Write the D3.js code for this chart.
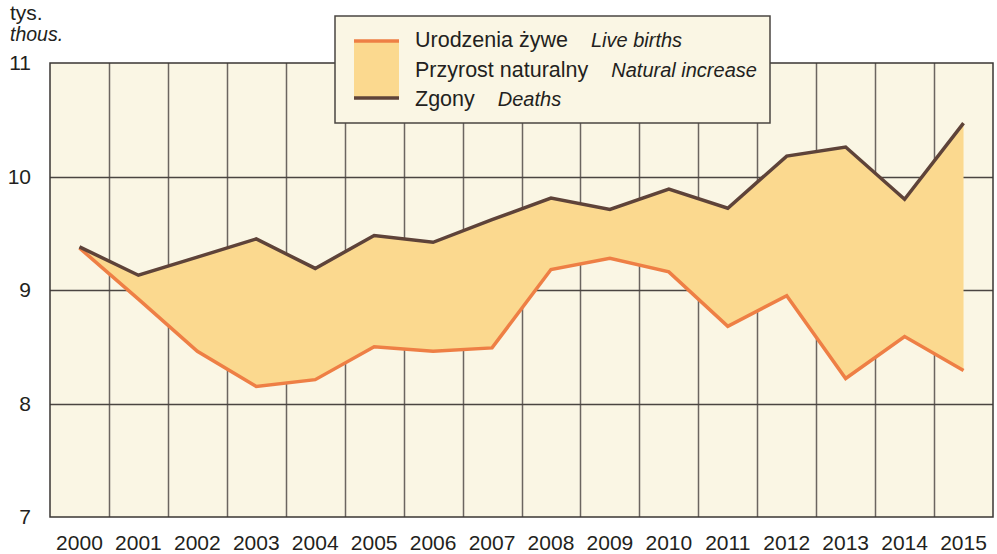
<!DOCTYPE html>
<html lang="pl">
<head>
  <meta charset="utf-8">
  <title>Urodzenia i zgony</title>
  <script src="https://d3js.org/d3.v7.min.js"></script>
  <style>
    body { margin: 0; background: #fff; }
    text { font-family: "Liberation Sans", Arial, sans-serif; fill: #231f20; }
  </style>
</head>
<body>
<script>
  var years = ["2000", "2001", "2002", "2003", "2004", "2005", "2006", "2007",
    "2008", "2009", "2010", "2011", "2012", "2013", "2014", "2015"];
  var births = [9.37, 8.92, 8.46, 8.15, 8.21, 8.50, 8.46, 8.49,
    9.18, 9.28, 9.16, 8.68, 8.95, 8.22, 8.59, 8.29];
  var deaths = [9.38, 9.13, 9.29, 9.45, 9.19, 9.48, 9.42, 9.62,
    9.81, 9.71, 9.89, 9.72, 10.18, 10.26, 9.80, 10.47];
  var yTicks = [7, 8, 9, 10, 11];

  var width = 997, height = 554;
  var margin = { top: 63, right: 4, bottom: 37, left: 50 };
  var w = width - margin.left - margin.right,
    h = height - margin.top - margin.bottom;

  var svg = d3.select("body").append("svg")
    .attr("width", width)
    .attr("height", height);

  var g = svg.append("g")
    .attr("transform", "translate(" + margin.left + "," + margin.top + ")");

  var x = d3.scaleBand().domain(years).range([0, w]);
  var y = d3.scaleLinear().domain([7, 11]).range([h, 0]);

  var data = years.map(function (d, i) {
    return { year: d, b: births[i], z: deaths[i] };
  });

  g.append("rect")
    .attr("width", w).attr("height", h)
    .attr("fill", "#faf6e4");

  // vertical grid at band boundaries
  g.selectAll(".vgrid")
    .data(years.slice(1))
    .enter().append("line")
    .attr("x1", function (d) { return Math.round(x(d)) + 0.5; })
    .attr("x2", function (d) { return Math.round(x(d)) + 0.5; })
    .attr("y1", 0).attr("y2", h)
    .attr("stroke", "#6b6560").attr("stroke-width", 1.5);

  g.selectAll(".hgrid")
    .data(yTicks.slice(1, -1))
    .enter().append("line")
    .attr("x1", 0).attr("x2", w)
    .attr("y1", function (d) { return Math.round(y(d)) + 0.5; })
    .attr("y2", function (d) { return Math.round(y(d)) + 0.5; })
    .attr("stroke", "#4a4541").attr("stroke-width", 1.5);

  var cx = function (d) { return x(d.year) + x.bandwidth() / 2; };

  g.append("path")
    .datum(data)
    .attr("fill", "#fbd98f")
    .attr("d", d3.area().x(cx)
      .y0(function (d) { return y(d.b); })
      .y1(function (d) { return y(d.z); }));

  g.append("path")
    .datum(data)
    .attr("fill", "none")
    .attr("stroke", "#ee7f45")
    .attr("stroke-width", 3.5)
    .attr("d", d3.line().x(cx).y(function (d) { return y(d.b); }));

  g.append("path")
    .datum(data)
    .attr("fill", "none")
    .attr("stroke", "#5e4339")
    .attr("stroke-width", 3.5)
    .attr("d", d3.line().x(cx).y(function (d) { return y(d.z); }));

  g.append("rect")
    .attr("width", w).attr("height", h)
    .attr("fill", "none")
    .attr("stroke", "#3a3633").attr("stroke-width", 1.5);

  // axes labels
  g.selectAll(".ylab")
    .data(yTicks)
    .enter().append("text")
    .attr("x", -19)
    .attr("y", function (d) { return y(d) + 7; })
    .attr("text-anchor", "end")
    .attr("font-size", "21px")
    .text(function (d) { return d; });

  g.selectAll(".xlab")
    .data(years)
    .enter().append("text")
    .attr("x", function (d) { return x(d) + x.bandwidth() / 2; })
    .attr("y", h + 33)
    .attr("text-anchor", "middle")
    .attr("font-size", "21px")
    .text(function (d) { return d; });

  svg.append("text")
    .attr("x", 10).attr("y", 20)
    .attr("font-size", "21px")
    .text("tys.");
  svg.append("text")
    .attr("x", 10).attr("y", 41)
    .attr("font-size", "19.5px")
    .attr("font-style", "italic")
    .text("thous.");

  // legend
  var lg = svg.append("g").attr("transform", "translate(335,16)");
  lg.append("rect")
    .attr("width", 435).attr("height", 107)
    .attr("fill", "#faf6e4")
    .attr("stroke", "#4a4541").attr("stroke-width", 1.5);
  lg.append("rect")
    .attr("x", 19).attr("y", 24).attr("width", 45).attr("height", 58)
    .attr("fill", "#fbd98f");
  lg.append("line")
    .attr("x1", 19).attr("x2", 64).attr("y1", 25).attr("y2", 25)
    .attr("stroke", "#ee7f45").attr("stroke-width", 3.5);
  lg.append("line")
    .attr("x1", 19).attr("x2", 64).attr("y1", 82).attr("y2", 82)
    .attr("stroke", "#5e4339").attr("stroke-width", 3.5);

  var legendRows = [
    ["Urodzenia żywe", "Live births", 31],
    ["Przyrost naturalny", "Natural increase", 61],
    ["Zgony", "Deaths", 90]
  ];
  legendRows.forEach(function (r) {
    var t = lg.append("text")
      .attr("x", 80).attr("y", r[2])
      .attr("font-size", "21.5px");
    t.append("tspan").text(r[0]);
    t.append("tspan")
      .attr("dx", 23)
      .attr("font-style", "italic")
      .attr("font-size", "20px")
      .text(r[1]);
  });
</script>
</body>
</html>
